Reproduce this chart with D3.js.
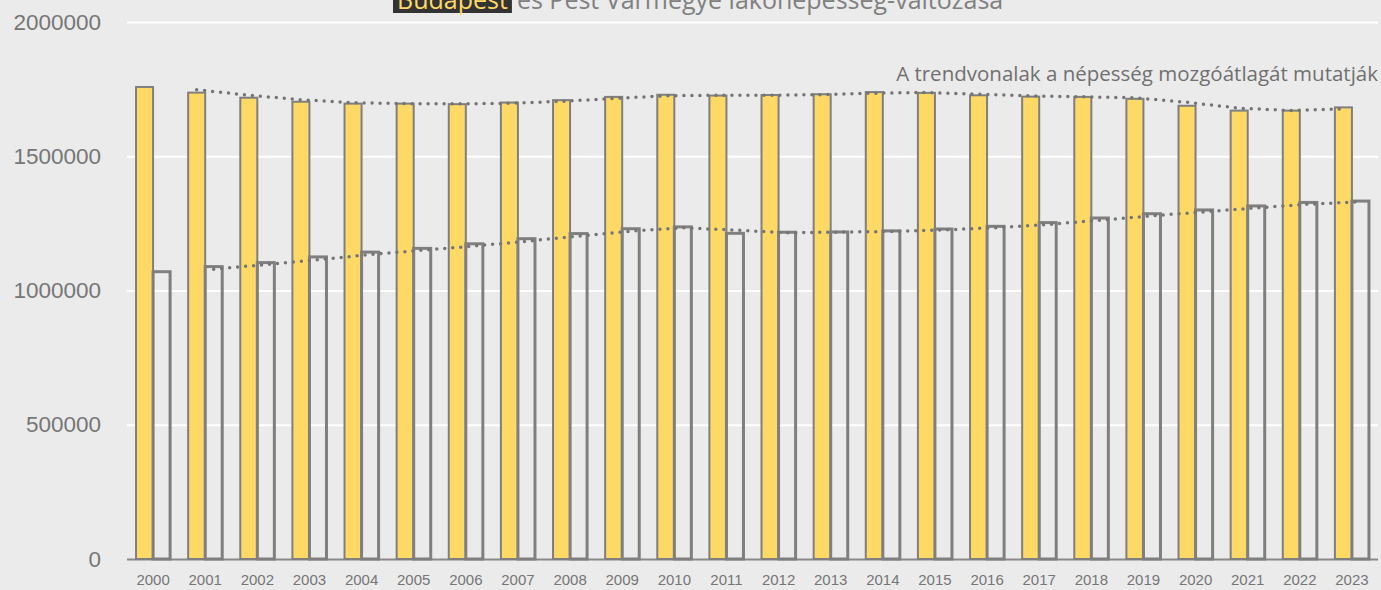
<!DOCTYPE html>
<html>
<head>
<meta charset="utf-8">
<script src="https://cdn.jsdelivr.net/npm/d3@7"></script>
<style>
  html, body { margin: 0; padding: 0; background: #ebebeb; }
  svg { display: block; font-family: "Open Sans", "Noto Sans", sans-serif; }
</style>
</head>
<body>
<svg id="chart"></svg>
<script>
// data
const years = ["2000", "2001", "2002", "2003", "2004", "2005", "2006", "2007",
  "2008", "2009", "2010", "2011", "2012", "2013", "2014", "2015", "2016",
  "2017", "2018", "2019", "2020", "2021", "2022", "2023"];
const budapest = [1758000, 1737000, 1718000, 1703000, 1696000, 1696000, 1694000,
  1700000, 1709000, 1721000, 1729000, 1726000, 1728000, 1731000, 1739000,
  1736000, 1727000, 1722000, 1721000, 1714000, 1688000, 1670000, 1670000, 1682000];
const pest = [1070000, 1089000, 1104000, 1125000, 1143000, 1157000, 1174000,
  1193000, 1212000, 1230000, 1237000, 1213000, 1217000, 1218000, 1222000,
  1229000, 1239000, 1253000, 1270000, 1286000, 1300000, 1315000, 1328000, 1333000];
const yTicks = [0, 500000, 1000000, 1500000, 2000000];
const seriesKeys = ["budapest", "pest"];

const titleHighlight = "Budapest";
const titleRest = "és Pest Vármegye lakónépesség-változása";
const note = "A trendvonalak a népesség mozgóátlagát mutatják";

// style
const W = 1381, H = 590;
const margin = { top: 22, right: 3, bottom: 31, left: 127 };
const width = W - margin.left - margin.right;
const height = H - margin.top - margin.bottom;

const svg = d3.select("#chart")
  .attr("width", W)
  .attr("height", H)
  .style("background-color", "#ebebeb");

const g = svg.append("g")
  .attr("transform", "translate(" + margin.left + "," + margin.top + ")");

// x
const x0 = d3.scaleBand().domain(years).range([0, width]).padding(0);
const x1 = d3.scaleBand().domain(seriesKeys).range([0, x0.bandwidth()])
  .paddingInner(0).paddingOuter(0.53);

// y
const y = d3.scaleLinear().domain([0, 2000000]).range([height, 0]);

// grid + y labels
const yAxis = g.append("g")
  .call(d3.axisLeft(y).tickValues(yTicks).tickFormat(d3.format("d"))
    .tickSize(-width).tickPadding(26));
yAxis.select(".domain").remove();
yAxis.selectAll(".tick line")
  .attr("stroke", (d) => d === 0 ? "#8a8a8a" : "#ffffff")
  .attr("stroke-width", 2);
yAxis.selectAll(".tick text")
  .attr("fill", "#767676")
  .style("font-size", "22.5px");

// x labels
const xAxis = g.append("g")
  .attr("transform", "translate(0," + height + ")")
  .call(d3.axisBottom(x0).tickSize(0).tickPadding(15));
xAxis.select(".domain").remove();
xAxis.selectAll(".tick text")
  .attr("fill", "#767676")
  .style("font-size", "15px");

const rows = years.map((yr, i) => ({ year: yr, budapest: budapest[i], pest: pest[i] }));

// bars
g.append("g")
  .selectAll("rect")
  .data(rows)
  .enter()
  .append("rect")
  .attr("x", (d) => x0(d.year) + x1("budapest"))
  .attr("y", (d) => y(d.budapest))
  .attr("width", x1.bandwidth())
  .attr("height", (d) => height - y(d.budapest))
  .attr("fill", "#ffd966")
  .attr("stroke", "#7f7f7f")
  .attr("stroke-width", 2);

g.append("g")
  .selectAll("rect")
  .data(rows)
  .enter()
  .append("rect")
  .attr("x", (d) => x0(d.year) + x1("pest"))
  .attr("y", (d) => y(d.pest))
  .attr("width", x1.bandwidth())
  .attr("height", (d) => height - y(d.pest))
  .attr("fill", "none")
  .attr("stroke", "#7f7f7f")
  .attr("stroke-width", 3);

// moving average trendlines (period 2)
function movingAvg(values) {
  const out = [];
  for (let i = 1; i < values.length; i++) {
    out.push({ year: years[i], value: (values[i - 1] + values[i]) / 2 });
  }
  return out;
}

seriesKeys.forEach((key) => {
  const vals = key === "budapest" ? budapest : pest;
  const line = d3.line()
    .x((d) => x0(d.year) + x1(key) + x1.bandwidth() / 2)
    .y((d) => y(d.value));
  g.append("path")
    .datum(movingAvg(vals))
    .attr("d", line)
    .attr("fill", "none")
    .attr("stroke", "#757575")
    .attr("stroke-width", 3.5)
    .attr("stroke-linecap", "round")
    .attr("stroke-dasharray", "0 8");
});

// title (cut at the top like the original)
const title = svg.append("g");
const hl = title.append("text")
  .attr("x", 397)
  .attr("y", 9)
  .attr("fill", "#ffd966")
  .style("font-size", "25px")
  .text(titleHighlight);
const hlBox = hl.node().getBBox();
title.insert("rect", "text")
  .attr("x", 393)
  .attr("y", -12)
  .attr("width", hlBox.width + 8)
  .attr("height", 25)
  .attr("fill", "#333333");
title.append("text")
  .attr("x", 393 + hlBox.width + 13)
  .attr("y", 9)
  .attr("fill", "#808080")
  .style("font-size", "25px")
  .text(titleRest);

// note
svg.append("text")
  .attr("x", 1378)
  .attr("y", 81)
  .attr("text-anchor", "end")
  .attr("fill", "#707070")
  .style("font-size", "20.5px")
  .text(note);
</script>
</body>
</html>
